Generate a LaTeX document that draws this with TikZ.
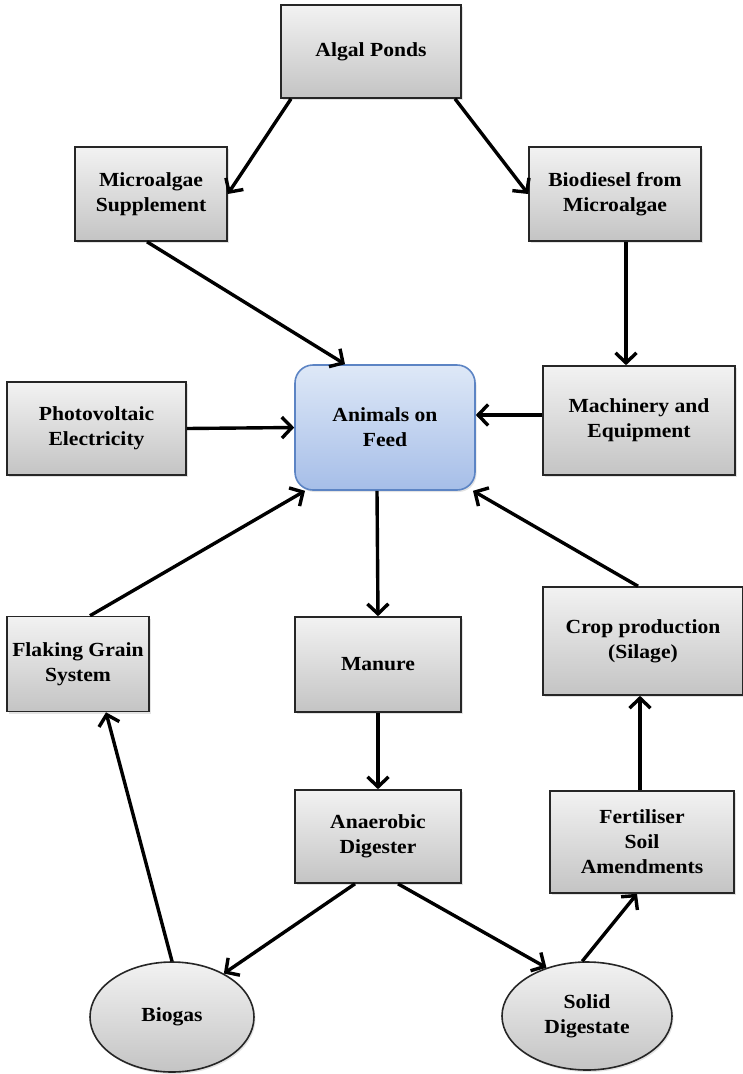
\documentclass[tikz,border=0pt]{standalone}
\usepackage{fontspec}
\setmainfont{Liberation Serif}[FakeStretch=1.08]
\usetikzlibrary{arrows.meta,shapes.geometric,shadows}

\definecolor{boxtop}{RGB}{242,242,242}
\definecolor{boxbottom}{RGB}{196,196,196}
\definecolor{feedtop}{RGB}{222,232,247}
\definecolor{feedbottom}{RGB}{166,190,232}
\definecolor{feedline}{RGB}{92,132,196}

\tikzset{
  soft shadow/.style={drop shadow={opacity=.22,shadow xshift=1.5pt,shadow yshift=-2pt}},
  greybox/.style={draw=black!85, line width=1.6pt, rectangle, align=center,
    top color=boxtop, bottom color=boxbottom, soft shadow,
    font=\bfseries\fontsize{20}{25}\selectfont, inner sep=0pt},
  centrebox/.style={greybox, rounded corners=18pt, draw=feedline,
    top color=feedtop, bottom color=feedbottom},
  oval/.style={greybox, ellipse},
  flow/.style={line width=3.4pt, line join=round,
    -{Straight Barb[length=10pt,width=21pt,line width=3.4pt]}}
}

\begin{document}
\begin{tikzpicture}[x=1pt,y=-1pt]
\useasboundingbox (0,0) rectangle (743,1074);

% boxes
\node[greybox, minimum width=180pt, minimum height=93pt] (algal) at (371,51.5) {Algal Ponds};
\node[greybox, minimum width=152pt, minimum height=94pt] (micro) at (151,194) {Microalgae\\Supplement};
\node[greybox, minimum width=172pt, minimum height=94pt] (biod) at (615,194) {Biodiesel from\\Microalgae};
\node[greybox, minimum width=179pt, minimum height=93pt] (photo) at (96.5,428.5) {Photovoltaic\\Electricity};
\node[centrebox, minimum width=180pt, minimum height=125pt] (animals) at (385,427.5) {Animals on\\Feed};
\node[greybox, minimum width=192pt, minimum height=109pt] (mach) at (639,420.5) {Machinery and\\Equipment};
\node[greybox, minimum width=142pt, minimum height=95pt] (flake) at (78,664) {Flaking Grain\\System};
\node[greybox, minimum width=166pt, minimum height=95pt] (manure) at (378,664.5) {Manure};
\node[greybox, minimum width=200pt, minimum height=108pt] (crop) at (643,641) {Crop production\\(Silage)};
\node[greybox, minimum width=166pt, minimum height=93pt] (anaer) at (378,836.5) {Anaerobic\\Digester};
\node[greybox, minimum width=184pt, minimum height=102pt] (fert) at (642,842) {Fertiliser\\Soil\\Amendments};
\node[oval, minimum width=164pt, minimum height=110pt] (biogas) at (172,1017) {Biogas};
\node[oval, minimum width=170pt, minimum height=108pt] (solid) at (587,1016) {Solid\\Digestate};

% connectors
\draw[flow] ([xshift=-80pt]algal.south) -- (micro.east);
\draw[flow] ([xshift=84pt]algal.south) -- (biod.west);
\draw[flow] ([xshift=-4pt]micro.south) -- ([xshift=-40pt]animals.north);
\draw[flow] ([xshift=11pt]biod.south) -- ([xshift=-13pt]mach.north);
\draw[flow] (photo.east) -- (animals.west);
\draw[flow] ([yshift=5.5pt]mach.west) -- ([yshift=12.5pt]animals.east);
\draw[flow] ([xshift=12pt]flake.north) -- ([xshift=-80pt]animals.south);
\draw[flow] ([xshift=-5pt]crop.north) -- ([xshift=88pt]animals.south);
\draw[flow] ([xshift=-8pt]animals.south) -- (manure.north);
\draw[flow] (manure.south) -- (anaer.north);
\draw[flow] ([xshift=-23pt]anaer.south) -- (biogas.40);
\draw[flow] ([xshift=20pt]anaer.south) -- (solid.130);
\draw[flow] (solid.95) -- ([xshift=-5pt]fert.south);
\draw[flow] ([xshift=-2pt]fert.north) -- ([xshift=-3pt]crop.south);
\draw[flow] (biogas.north) -- ([xshift=28pt]flake.south);
\end{tikzpicture}
\end{document}
